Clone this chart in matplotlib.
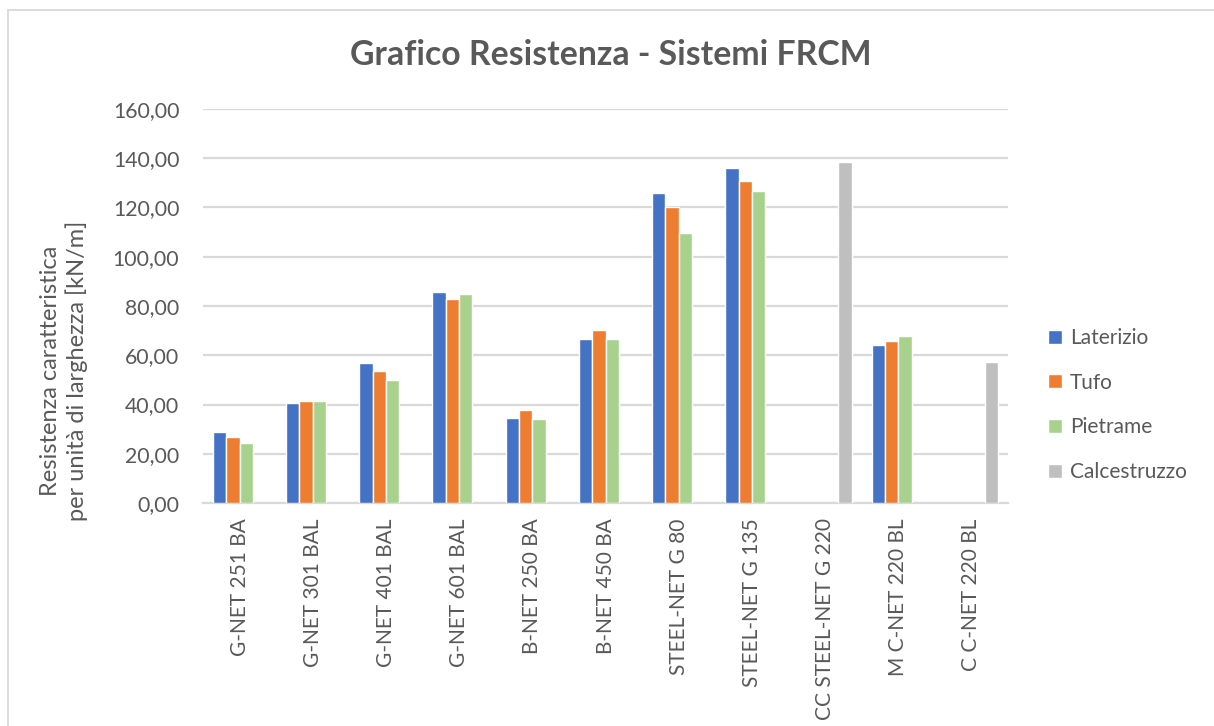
import numpy as np
import matplotlib
matplotlib.use("Agg")
import matplotlib.pyplot as plt
from matplotlib.patches import Rectangle

plt.rcParams['font.family'] = ['Lato', 'DejaVu Sans']

categories = ["G-NET 251 BA", "G-NET 301 BAL", "G-NET 401 BAL", "G-NET 601 BAL",
              "B-NET 250 BA", "B-NET 450 BA", "STEEL-NET G 80", "STEEL-NET G 135",
              "CC STEEL-NET G 220", "M C-NET 220 BL", "C C-NET 220 BL"]
laterizio = [28.7, 40.5, 56.9, 85.6, 34.4, 66.5, 126.0, 136.2, np.nan, 64.0, np.nan]
tufo = [26.9, 41.4, 53.7, 82.7, 37.6, 70.3, 120.2, 130.6, np.nan, 65.8, np.nan]
pietrame = [24.4, 41.5, 49.8, 84.7, 34.0, 66.7, 109.6, 126.7, np.nan, 67.7, np.nan]
calcestruzzo = [np.nan, np.nan, np.nan, np.nan, np.nan, np.nan, np.nan, np.nan, 138.5, np.nan, 57.4]
series_names = ["Laterizio", "Tufo", "Pietrame", "Calcestruzzo"]
yticks = [0, 20, 40, 60, 80, 100, 120, 140, 160]

colors = ["#4472C4", "#ED7D31", "#A9D18E", "#BFBFBF"]
txt = "#595959"
grid = "#D9D9D9"

W, H = 1214, 726
fig = plt.figure(figsize=(W / 100, H / 100), dpi=100)
fig.patch.set_facecolor("white")

# chart border
fig.add_artist(Rectangle((8 / W, -0.05), 1.2, 1 - 10 / H + 0.05, transform=fig.transFigure,
                         fill=False, edgecolor=grid, linewidth=1.3))

ax = fig.add_axes([203 / W, 1 - 503 / H, (1008 - 203) / W, (503 - 109) / H])
x = np.arange(len(categories))
bw = 0.182
all_series = [laterizio, tufo, pietrame, calcestruzzo]
handles = []
for i, (vals, c, name) in enumerate(zip(all_series, colors, series_names)):
    b = ax.bar(x + (i - 1.5) * bw, vals, width=bw, color=c, edgecolor="white",
               linewidth=1.0, label=name, zorder=3)
    handles.append(b)

ax.set_xlim(-0.5, len(categories) - 0.5)
ax.set_ylim(0, 160)
ax.set_yticks(yticks)
ax.set_yticklabels([f"{v:.2f}".replace(".", ",") for v in yticks], fontsize=15.3, color=txt)
ax.set_xticks(x)
ax.set_xticklabels(categories, rotation=90, fontsize=15, color=txt, va="top")
ax.tick_params(axis="both", length=0)
ax.tick_params(axis="y", pad=17)
ax.tick_params(axis="x", pad=11)
ax.yaxis.grid(True, color=grid, linewidth=1.6, zorder=0)
ax.set_axisbelow(True)
for s in ["top", "right", "left"]:
    ax.spines[s].set_visible(False)
ax.spines["bottom"].set_color(grid)
ax.spines["bottom"].set_linewidth(1.6)

fig.text(611 / W, 1 - 55 / H, "Grafico Resistenza - Sistemi FRCM", ha="center", va="center",
         fontsize=24.3, fontweight="bold", color=txt)
fig.text(64 / W, 1 - 371 / H, "Resistenza caratteristica\nper unità di larghezza [kN/m]",
         rotation=90, ha="center", va="center", multialignment="center",
         fontsize=17, color=txt, linespacing=1.2)

leg = fig.legend(handles=handles, labels=series_names, loc="center left",
                 bbox_to_anchor=(1048 / W, 1 - 405 / H), frameon=False, fontsize=15,
                 handlelength=0.65, handleheight=0.65, handletextpad=0.4,
                 labelspacing=1.18, borderpad=0, borderaxespad=0)
for t in leg.get_texts():
    t.set_color(txt)

fig.savefig("out.png", dpi=100)
